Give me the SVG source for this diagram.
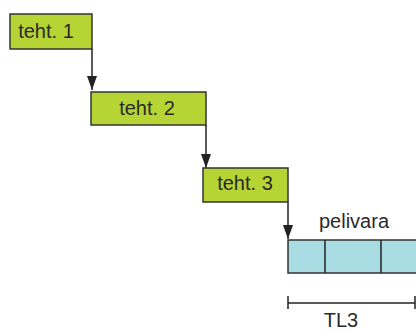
<svg xmlns="http://www.w3.org/2000/svg" width="416" height="332" viewBox="0 0 416 332">
<defs>
<style>
.task{fill:#b6d434;stroke:#333;stroke-width:1.5}
.lbl{font-family:"Liberation Sans",Arial,sans-serif;font-size:20px;fill:#2a2a2a;text-anchor:middle}
.conn{stroke:#222;stroke-width:1.5;fill:none}
.buf{fill:#a9dde3;stroke:#333;stroke-width:1.5}
</style>
<marker id="arrow" viewBox="0 0 14 10" refX="14" refY="5" markerWidth="14" markerHeight="10" markerUnits="userSpaceOnUse" orient="auto">
<path d="M0,0 L14,5 L0,10 Z" fill="#222"/>
</marker>
</defs>
<g id="connectors">
<path class="conn" d="M92,49 V90" marker-end="url(#arrow)"/>
<path class="conn" d="M206,125 V168" marker-end="url(#arrow)"/>
<path class="conn" d="M288,202 V239" marker-end="url(#arrow)"/>
</g>
<g id="teht1">
<rect class="task" x="10" y="14" width="82" height="35"/>
<text class="lbl" x="46" y="38">teht. 1</text>
</g>
<g id="teht2">
<rect class="task" x="91" y="92" width="115" height="33"/>
<text class="lbl" x="147" y="115">teht. 2</text>
</g>
<g id="teht3">
<rect class="task" x="203" y="168" width="85" height="34"/>
<text class="lbl" x="245" y="190">teht. 3</text>
</g>
<g id="pelivara">
<text class="lbl" x="354" y="228">pelivara</text>
<rect class="buf" x="288" y="240" width="132" height="33"/>
<line class="conn" x1="325" y1="240" x2="325" y2="273"/>
<line class="conn" x1="381" y1="240" x2="381" y2="273"/>
</g>
<g id="tl3">
<line class="conn" x1="288" y1="303" x2="415" y2="303"/>
<line class="conn" x1="288" y1="296" x2="288" y2="309"/>
<line class="conn" x1="415" y1="296" x2="415" y2="309"/>
<text class="lbl" x="341" y="327">TL3</text>
</g>
</svg>
